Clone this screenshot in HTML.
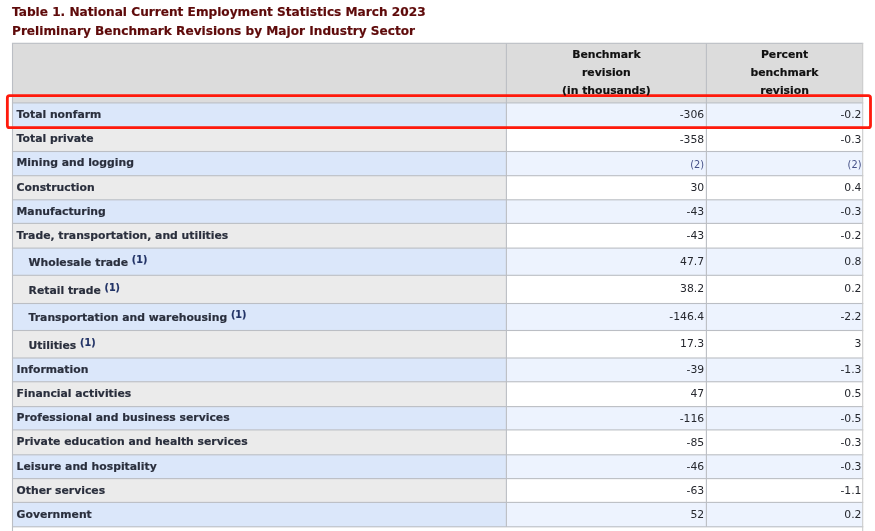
<!DOCTYPE html>
<html lang="en"><head><meta charset="utf-8"><title>Table 1. National Current Employment Statistics March 2023</title>
<style>
html,body{margin:0;padding:0;background:#fff;}
body{width:875px;height:531px;position:relative;overflow:hidden;font-family:"DejaVu Sans","Liberation Sans",sans-serif;}
svg{position:absolute;left:0;top:0;}
#w{position:absolute;left:0;top:0;width:875px;height:531px;filter:blur(0.3px);}
.t,.h,.l{-webkit-text-stroke:0.18px currentColor;}
.t{position:absolute;left:12px;white-space:nowrap;font-weight:bold;color:#5e0a0a;font-size:12.14px;line-height:20px;}
.c{position:absolute;font-size:10.82px;white-space:nowrap;line-height:18.1px;}
.h{color:#111;font-weight:bold;text-align:center;}
.l{font-weight:bold;color:#2a2f3d;}
.d{text-align:right;color:#25272e;}
sup{font-size:9.6px;color:#223366;vertical-align:baseline;position:relative;top:-2.8px;line-height:0;}
.fn{color:#444f86;font-size:9.8px;position:relative;top:0.7px;}
</style></head><body><div id="w">
<svg width="875" height="531" viewBox="0 0 875 531">
<rect x="12.50" y="43.30" width="850.20" height="59.60" fill="#dcdcdc"/>
<rect x="12.50" y="102.90" width="493.90" height="24.40" fill="#dbe7fa"/>
<rect x="506.40" y="102.90" width="356.30" height="24.40" fill="#edf3fe"/>
<rect x="12.50" y="127.30" width="493.90" height="24.20" fill="#ebebeb"/>
<rect x="506.40" y="127.30" width="356.30" height="24.20" fill="#ffffff"/>
<rect x="12.50" y="151.50" width="493.90" height="24.20" fill="#dbe7fa"/>
<rect x="506.40" y="151.50" width="356.30" height="24.20" fill="#edf3fe"/>
<rect x="12.50" y="175.70" width="493.90" height="24.10" fill="#ebebeb"/>
<rect x="506.40" y="175.70" width="356.30" height="24.10" fill="#ffffff"/>
<rect x="12.50" y="199.80" width="493.90" height="23.60" fill="#dbe7fa"/>
<rect x="506.40" y="199.80" width="356.30" height="23.60" fill="#edf3fe"/>
<rect x="12.50" y="223.40" width="493.90" height="24.70" fill="#ebebeb"/>
<rect x="506.40" y="223.40" width="356.30" height="24.70" fill="#ffffff"/>
<rect x="12.50" y="248.10" width="493.90" height="27.20" fill="#dbe7fa"/>
<rect x="506.40" y="248.10" width="356.30" height="27.20" fill="#edf3fe"/>
<rect x="12.50" y="275.30" width="493.90" height="28.20" fill="#ebebeb"/>
<rect x="506.40" y="275.30" width="356.30" height="28.20" fill="#ffffff"/>
<rect x="12.50" y="303.50" width="493.90" height="27.00" fill="#dbe7fa"/>
<rect x="506.40" y="303.50" width="356.30" height="27.00" fill="#edf3fe"/>
<rect x="12.50" y="330.50" width="493.90" height="27.50" fill="#ebebeb"/>
<rect x="506.40" y="330.50" width="356.30" height="27.50" fill="#ffffff"/>
<rect x="12.50" y="358.00" width="493.90" height="23.75" fill="#dbe7fa"/>
<rect x="506.40" y="358.00" width="356.30" height="23.75" fill="#edf3fe"/>
<rect x="12.50" y="381.75" width="493.90" height="24.85" fill="#ebebeb"/>
<rect x="506.40" y="381.75" width="356.30" height="24.85" fill="#ffffff"/>
<rect x="12.50" y="406.60" width="493.90" height="23.30" fill="#dbe7fa"/>
<rect x="506.40" y="406.60" width="356.30" height="23.30" fill="#edf3fe"/>
<rect x="12.50" y="429.90" width="493.90" height="24.90" fill="#ebebeb"/>
<rect x="506.40" y="429.90" width="356.30" height="24.90" fill="#ffffff"/>
<rect x="12.50" y="454.80" width="493.90" height="23.80" fill="#dbe7fa"/>
<rect x="506.40" y="454.80" width="356.30" height="23.80" fill="#edf3fe"/>
<rect x="12.50" y="478.60" width="493.90" height="23.80" fill="#ebebeb"/>
<rect x="506.40" y="478.60" width="356.30" height="23.80" fill="#ffffff"/>
<rect x="12.50" y="502.40" width="493.90" height="24.40" fill="#dbe7fa"/>
<rect x="506.40" y="502.40" width="356.30" height="24.40" fill="#edf3fe"/>
<rect x="11.95" y="42.75" width="851.30" height="1.1" fill="#bbbec4"/>
<rect x="11.95" y="102.35" width="851.30" height="1.1" fill="#bbbec4"/>
<rect x="11.95" y="126.75" width="851.30" height="1.1" fill="#bbbec4"/>
<rect x="11.95" y="150.95" width="851.30" height="1.1" fill="#bbbec4"/>
<rect x="11.95" y="175.15" width="851.30" height="1.1" fill="#bbbec4"/>
<rect x="11.95" y="199.25" width="851.30" height="1.1" fill="#bbbec4"/>
<rect x="11.95" y="222.85" width="851.30" height="1.1" fill="#bbbec4"/>
<rect x="11.95" y="247.55" width="851.30" height="1.1" fill="#bbbec4"/>
<rect x="11.95" y="274.75" width="851.30" height="1.1" fill="#bbbec4"/>
<rect x="11.95" y="302.95" width="851.30" height="1.1" fill="#bbbec4"/>
<rect x="11.95" y="329.95" width="851.30" height="1.1" fill="#bbbec4"/>
<rect x="11.95" y="357.45" width="851.30" height="1.1" fill="#bbbec4"/>
<rect x="11.95" y="381.20" width="851.30" height="1.1" fill="#bbbec4"/>
<rect x="11.95" y="406.05" width="851.30" height="1.1" fill="#bbbec4"/>
<rect x="11.95" y="429.35" width="851.30" height="1.1" fill="#bbbec4"/>
<rect x="11.95" y="454.25" width="851.30" height="1.1" fill="#bbbec4"/>
<rect x="11.95" y="478.05" width="851.30" height="1.1" fill="#bbbec4"/>
<rect x="11.95" y="501.85" width="851.30" height="1.1" fill="#bbbec4"/>
<rect x="11.95" y="526.25" width="851.30" height="1.1" fill="#bbbec4"/>
<rect x="11.95" y="43.30" width="1.1" height="487.70" fill="#bbbec4"/>
<rect x="505.85" y="43.30" width="1.1" height="483.50" fill="#bbbec4"/>
<rect x="705.85" y="43.30" width="1.1" height="483.50" fill="#bbbec4"/>
<rect x="862.15" y="43.30" width="1.1" height="487.70" fill="#cbcbcb"/>
<rect x="7.35" y="95.7" width="863.15" height="31.89999999999999" rx="2.2" fill="none" stroke="#ff1a0c" stroke-width="2.8"/>
</svg>
<div class="t" style="top:1.7px">Table 1. National Current Employment Statistics March 2023</div>
<div class="t" style="top:21.1px">Preliminary Benchmark Revisions by Major Industry Sector</div>
<div class="c h" style="left:506.4px;top:46.00px;width:200.0px;">Benchmark<br>revision<br>(in thousands)</div>
<div class="c h" style="left:706.4px;top:46.00px;width:156.3px;">Percent<br>benchmark<br>revision</div>
<div class="c l" style="left:16.6px;top:106.05px;width:489.8px;">Total nonfarm</div>
<div class="c d" style="left:506.4px;top:106.45px;width:197.8px;">-306</div>
<div class="c d" style="left:706.4px;top:106.45px;width:155.1px;">-0.2</div>
<div class="c l" style="left:16.6px;top:130.25px;width:489.8px;">Total private</div>
<div class="c d" style="left:506.4px;top:130.65px;width:197.8px;">-358</div>
<div class="c d" style="left:706.4px;top:130.65px;width:155.1px;">-0.3</div>
<div class="c l" style="left:16.6px;top:154.45px;width:489.8px;">Mining and logging</div>
<div class="c d" style="left:506.4px;top:154.85px;width:197.8px;"><span class="fn">(2)</span></div>
<div class="c d" style="left:706.4px;top:154.85px;width:155.1px;"><span class="fn">(2)</span></div>
<div class="c l" style="left:16.6px;top:178.65px;width:489.8px;">Construction</div>
<div class="c d" style="left:506.4px;top:179.05px;width:197.8px;">30</div>
<div class="c d" style="left:706.4px;top:179.05px;width:155.1px;">0.4</div>
<div class="c l" style="left:16.6px;top:202.85px;width:489.8px;">Manufacturing</div>
<div class="c d" style="left:506.4px;top:203.25px;width:197.8px;">-43</div>
<div class="c d" style="left:706.4px;top:203.25px;width:155.1px;">-0.3</div>
<div class="c l" style="left:16.6px;top:227.05px;width:489.8px;">Trade, transportation, and utilities</div>
<div class="c d" style="left:506.4px;top:227.45px;width:197.8px;">-43</div>
<div class="c d" style="left:706.4px;top:227.45px;width:155.1px;">-0.2</div>
<div class="c l" style="left:28.6px;top:254.20px;width:477.8px;">Wholesale trade <sup>(1)</sup></div>
<div class="c d" style="left:506.4px;top:252.80px;width:197.8px;">47.7</div>
<div class="c d" style="left:706.4px;top:252.80px;width:155.1px;">0.8</div>
<div class="c l" style="left:28.6px;top:281.70px;width:477.8px;">Retail trade <sup>(1)</sup></div>
<div class="c d" style="left:506.4px;top:280.30px;width:197.8px;">38.2</div>
<div class="c d" style="left:706.4px;top:280.30px;width:155.1px;">0.2</div>
<div class="c l" style="left:28.6px;top:309.20px;width:477.8px;">Transportation and warehousing <sup>(1)</sup></div>
<div class="c d" style="left:506.4px;top:307.80px;width:197.8px;">-146.4</div>
<div class="c d" style="left:706.4px;top:307.80px;width:155.1px;">-2.2</div>
<div class="c l" style="left:28.6px;top:336.70px;width:477.8px;">Utilities <sup>(1)</sup></div>
<div class="c d" style="left:506.4px;top:335.30px;width:197.8px;">17.3</div>
<div class="c d" style="left:706.4px;top:335.30px;width:155.1px;">3</div>
<div class="c l" style="left:16.6px;top:360.70px;width:489.8px;">Information</div>
<div class="c d" style="left:506.4px;top:361.10px;width:197.8px;">-39</div>
<div class="c d" style="left:706.4px;top:361.10px;width:155.1px;">-1.3</div>
<div class="c l" style="left:16.6px;top:384.90px;width:489.8px;">Financial activities</div>
<div class="c d" style="left:506.4px;top:385.30px;width:197.8px;">47</div>
<div class="c d" style="left:706.4px;top:385.30px;width:155.1px;">0.5</div>
<div class="c l" style="left:16.6px;top:409.10px;width:489.8px;">Professional and business services</div>
<div class="c d" style="left:506.4px;top:409.50px;width:197.8px;">-116</div>
<div class="c d" style="left:706.4px;top:409.50px;width:155.1px;">-0.5</div>
<div class="c l" style="left:16.6px;top:433.30px;width:489.8px;">Private education and health services</div>
<div class="c d" style="left:506.4px;top:433.70px;width:197.8px;">-85</div>
<div class="c d" style="left:706.4px;top:433.70px;width:155.1px;">-0.3</div>
<div class="c l" style="left:16.6px;top:457.50px;width:489.8px;">Leisure and hospitality</div>
<div class="c d" style="left:506.4px;top:457.90px;width:197.8px;">-46</div>
<div class="c d" style="left:706.4px;top:457.90px;width:155.1px;">-0.3</div>
<div class="c l" style="left:16.6px;top:481.70px;width:489.8px;">Other services</div>
<div class="c d" style="left:506.4px;top:482.10px;width:197.8px;">-63</div>
<div class="c d" style="left:706.4px;top:482.10px;width:155.1px;">-1.1</div>
<div class="c l" style="left:16.6px;top:505.90px;width:489.8px;">Government</div>
<div class="c d" style="left:506.4px;top:506.30px;width:197.8px;">52</div>
<div class="c d" style="left:706.4px;top:506.30px;width:155.1px;">0.2</div>
</div></body></html>
